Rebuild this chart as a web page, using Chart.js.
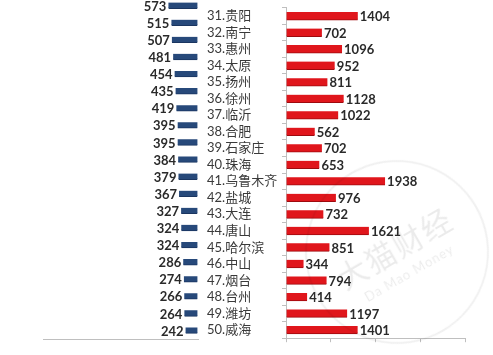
<!DOCTYPE html>
<html lang="zh">
<head>
  <meta charset="UTF-8" />
  <title>城市对比</title>
  <script src="https://cdn.jsdelivr.net/npm/chart.js"></script>
  <style>
    html, body {
      margin: 0;
      padding: 0;
      background: #fff;
      width: 493px;
      height: 355px;
      overflow: hidden;
      position: relative;
    }
    .box { position: absolute; top: -3px; height: 352px; }
    #leftBox { left: 0; width: 200px; }
    #rightBox { left: 200px; width: 293px; }
    .mark {
      position: absolute;
      left: 305px; top: 160px;
      width: 180px; height: 180px;
      border: 2px solid rgba(0,0,0,0.06);
      border-radius: 50%;
      transform: rotate(-30deg);
      color: rgba(0,0,0,0.08);
      font-family: 'Noto Sans CJK SC', sans-serif;
      text-align: center;
      pointer-events: none;
    }
    .mark .cn { font-size: 30px; margin-top: 62px; letter-spacing: 2px; }
    .mark .en { font-size: 13px; font-family: Lato, sans-serif; letter-spacing: 1px; }
  </style>
</head>
<body>
  <div class="box" id="leftBox"><canvas id="leftChart"></canvas></div>
  <div class="box" id="rightBox"><canvas id="rightChart"></canvas></div>
  <div class="mark"><div class="cn">大猫财经</div><div class="en">Da Mao Money</div></div>

  <script>
    const cities = ['31.贵阳', '32.南宁', '33.惠州', '34.太原', '35.扬州', '36.徐州', '37.临沂',
      '38.合肥', '39.石家庄', '40.珠海', '41.乌鲁木齐', '42.盐城', '43.大连', '44.唐山',
      '45.哈尔滨', '46.中山', '47.烟台', '48.台州', '49.潍坊', '50.威海'];
    const leftValues = [573, 515, 507, 481, 454, 435, 419, 395, 395, 384,
      379, 367, 327, 324, 324, 286, 274, 266, 264, 242];
    const rightValues = [1404, 702, 1096, 952, 811, 1128, 1022, 562, 702, 653,
      1938, 976, 732, 1621, 851, 344, 794, 414, 1197, 1401];

    const axisGrey = '#bfbfbf';

    // draws the number next to the end of each bar
    const valueLabels = {
      id: 'valueLabels',
      afterDatasetsDraw(chart, args, opts) {
        const ctx = chart.ctx;
        const meta = chart.getDatasetMeta(0);
        const data = chart.data.datasets[0].data;
        ctx.save();
        ctx.font = 'bold 13px Lato, "Liberation Sans", sans-serif';
        ctx.fillStyle = '#2a2a2a';
        ctx.textBaseline = 'middle';
        ctx.textAlign = opts.side === 'left' ? 'right' : 'left';
        meta.data.forEach((bar, i) => {
          const x = opts.side === 'left' ? bar.x - 2 : bar.x + 2;
          ctx.fillText(String(data[i]), x, bar.y + 1);
        });
        ctx.restore();
      }
    };

    Chart.defaults.animation = false;
    Chart.defaults.plugins.legend.display = false;
    Chart.defaults.plugins.tooltip.enabled = false;

    new Chart(document.getElementById('leftChart'), {
      type: 'bar',
      data: {
        labels: cities,
        datasets: [{
          data: leftValues,
          backgroundColor: '#27497a',
          borderColor: '#1a3560',
          borderWidth: { top: 0, bottom: 1, left: 0, right: 0 },
          borderSkipped: false,
          barThickness: 6
        }]
      },
      plugins: [valueLabels],
      options: {
        indexAxis: 'y',
        responsive: true,
        maintainAspectRatio: false,
        layout: { padding: { left: 43, right: 2, top: 0, bottom: 0 } },
        plugins: { valueLabels: { side: 'left' } },
        scales: {
          x: {
            reverse: true,
            min: 0,
            max: 3000,
            ticks: { display: false, stepSize: 1000 },
            grid: { drawOnChartArea: false, drawTicks: false },
            border: { color: axisGrey },
            afterFit: s => { s.height = 10; }
          },
          y: { display: false }
        }
      }
    });

    new Chart(document.getElementById('rightChart'), {
      type: 'bar',
      data: {
        labels: cities,
        datasets: [{
          data: rightValues,
          backgroundColor: '#e0161c',
          borderColor: '#9e0a0e',
          borderWidth: { top: 0, bottom: 1, left: 0, right: 0 },
          borderSkipped: false,
          barThickness: 8
        }]
      },
      plugins: [valueLabels],
      options: {
        indexAxis: 'y',
        responsive: true,
        maintainAspectRatio: false,
        layout: { padding: { left: 7, right: 28, top: 0, bottom: 0 } },
        plugins: { valueLabels: { side: 'right' } },
        scales: {
          x: {
            min: 0,
            max: 3500,
            ticks: { display: false, stepSize: 1000 },
            grid: { drawOnChartArea: false, tickLength: 4, color: axisGrey },
            border: { color: axisGrey },
            afterFit: s => { s.height = 10; }
          },
          y: {
            ticks: {
              autoSkip: false,
              crossAlign: 'far',
              color: '#3a3a3a',
              font: { family: 'Lato, "Noto Sans CJK SC", sans-serif', size: 13 }
            },
            grid: { drawOnChartArea: false, tickLength: 4, color: axisGrey },
            border: { color: axisGrey },
            afterFit: s => { s.width = 79; }
          }
        }
      }
    });
  </script>
</body>
</html>
